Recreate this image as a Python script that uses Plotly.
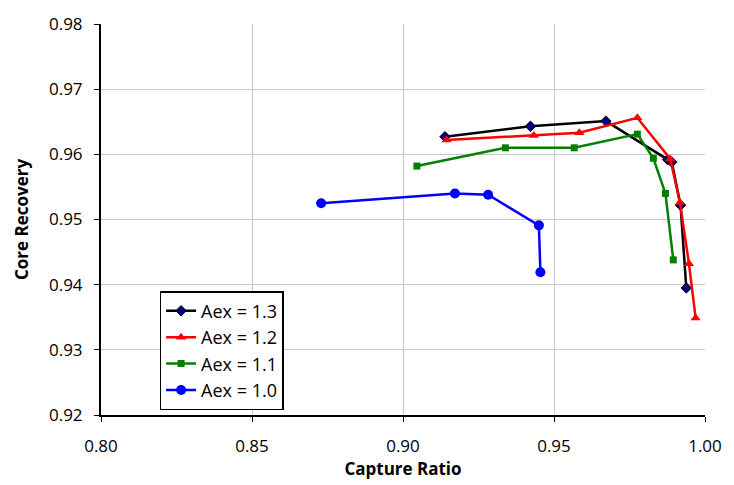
import plotly.graph_objects as go

x13 = [0.9139, 0.9422, 0.9672, 0.9876, 0.9890, 0.9919, 0.9938]
y13 = [0.9627, 0.9643, 0.9651, 0.9592, 0.9588, 0.9522, 0.9395]

x12 = [0.9144, 0.9433, 0.9584, 0.9776, 0.9885, 0.9917, 0.9947, 0.9969]
y12 = [0.9622, 0.9629, 0.9633, 0.9656, 0.9593, 0.9526, 0.9432, 0.9349]

x11 = [0.9046, 0.9339, 0.9567, 0.9776, 0.9829, 0.9869, 0.9895]
y11 = [0.9582, 0.9610, 0.9610, 0.9631, 0.9594, 0.9540, 0.9438]

x10 = [0.8729, 0.9172, 0.9282, 0.9450, 0.9455]
y10 = [0.9525, 0.9540, 0.9538, 0.9491, 0.9419]

names = ["Aex = 1.3", "Aex = 1.2", "Aex = 1.1", "Aex = 1.0"]

fig = go.Figure()
fig.add_trace(go.Scatter(x=x13, y=y13, name=names[0], mode="lines+markers",
                         line=dict(color="black", width=2.5),
                         marker=dict(symbol="diamond", size=8, color="#000080",
                                     line=dict(color="black", width=1))))
fig.add_trace(go.Scatter(x=x12, y=y12, name=names[1], mode="lines+markers",
                         line=dict(color="#ff0000", width=2.5),
                         marker=dict(symbol="triangle-up", size=9, color="#ff0000")))
fig.add_trace(go.Scatter(x=x11, y=y11, name=names[2], mode="lines+markers",
                         line=dict(color="#008000", width=2.5),
                         marker=dict(symbol="square", size=7, color="#008000")))
fig.add_trace(go.Scatter(x=x10, y=y10, name=names[3], mode="lines+markers",
                         line=dict(color="#0000ff", width=2.5),
                         marker=dict(symbol="circle", size=10, color="#0000ff")))

font = "Open Sans, Liberation Sans, sans-serif"
fig.update_layout(
    width=734, height=485,
    margin=dict(l=101, r=26, t=14, b=70),
    paper_bgcolor="white", plot_bgcolor="white",
    font=dict(family=font, size=17, color="black"),
    legend=dict(x=0.097, y=0.317, xanchor="left", yanchor="top",
                bordercolor="black", borderwidth=1.5, bgcolor="white",
                font=dict(size=18), itemwidth=30, tracegroupgap=0),
    xaxis=dict(range=[0.80, 1.00], dtick=0.05, tickformat=".2f",
               showgrid=True, gridcolor="#c8c8c8", gridwidth=1,
               showline=True, linecolor="black", linewidth=2,
               ticks="outside", ticklen=5, tickcolor="black",
               ticklabelstandoff=10, zeroline=False,
               title=dict(text="<b>Capture Ratio</b>", font=dict(size=17), standoff=2)),
    yaxis=dict(range=[0.92, 0.98], dtick=0.01, tickformat=".2f",
               showgrid=True, gridcolor="#c8c8c8", gridwidth=1,
               showline=True, linecolor="black", linewidth=2,
               ticks="outside", ticklen=5, tickcolor="black",
               ticklabelstandoff=8, zeroline=False,
               title=dict(text="<b>Core Recovery</b>", font=dict(size=17), standoff=16)),
)

fig.write_html("out.html")
